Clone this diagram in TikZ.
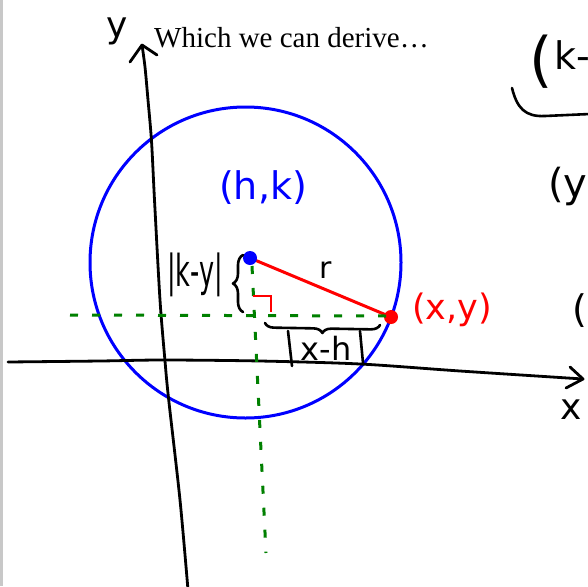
\documentclass[tikz,border=0pt]{standalone}
\usepackage{graphicx}
\usepackage{fontspec}
\setmainfont{Liberation Serif}
\newfontfamily\hw{DejaVu Sans}
\usetikzlibrary{decorations.pathreplacing}
\definecolor{pblue}{RGB}{0,0,255}
\definecolor{pred}{RGB}{255,0,0}
\definecolor{pgreen}{RGB}{0,128,0}
\definecolor{edgegray}{RGB}{200,200,200}
\begin{document}
\begin{tikzpicture}[x=1pt,y=-1pt,
  axisline/.style={line width=2.8pt, line cap=round, line join=round},
  circline/.style={pblue, line width=3pt},
  guide/.style={pgreen, line width=3pt, dash pattern=on 8pt off 14pt},
  inkline/.style={line width=2.6pt, line cap=round, line join=round},
  hand/.style={inner sep=0pt, font=\hw},
  bracestyle/.style={inkline, decorate},
  dotstyle/.style={circle, inner sep=0pt, minimum size=14pt}
]
\useasboundingbox (0,0) rectangle (588,586);
\clip (0,0) rectangle (588,586);
\fill[edgegray] (0,0) rectangle (2.5,586);

% title
\node[anchor=base west, inner sep=0pt, font=\fontsize{29}{33}\selectfont] (title) at (154,47.3) {Which we can derive…};

% circle
\coordinate (O) at (245.5,262.5);
\draw[circline] (O) circle [radius=155.5];

% y axis
\coordinate (ytip) at (142,45);
\draw[axisline] plot[smooth, tension=0.5] coordinates {(188,590) (180,500) (168.5,398) (165,361) (160,300) (154.5,200) (151.5,141) (148,100) (145,67) (ytip)};
\draw[axisline] (130,62) -- (ytip) -- (157,55);
\node[hand, font=\hw\fontsize{36}{40}\selectfont] (ylab) at (117,31) {y};

% x axis
\coordinate (xtip) at (583,379);
\draw[axisline] plot[smooth, tension=0.5] coordinates {(8,362) (100,361) (163,360) (260,361) (360,364) (460,371) (xtip)};
\draw[axisline] (570,367) -- (xtip) -- (566,388);
\node[hand, font=\hw\fontsize{36}{40}\selectfont] (xlab) at (571,410) {x};

% centre and point
\coordinate (C) at (250,258);
\coordinate (P) at (391,317);
\draw[pred, line width=3pt, line cap=round] (C) -- (P);
\node[dotstyle, fill=pblue] (cdot) at (C) {};
\node[dotstyle, fill=pred] (pdot) at (P) {};

% green guides
\coordinate (gl) at (70,315);
\coordinate (gr) at (386,316);
\coordinate (gt) at (252,266);
\coordinate (gb) at (266,553);
\draw[guide] (gl) -- (gr);
\draw[guide] (gt) -- (gb);

% right angle mark
\draw[pred, line width=2.8pt] (253,296) -- (271,296) -- (271,312);

% labels
\node[hand, pblue, font=\hw\fontsize{38}{42}\selectfont] (hk) at (263,188) {(h,k)};
\node[hand, pred, font=\hw\fontsize{35}{40}\selectfont] (xy) at (452,310) {(x,y)};
\node[hand, font=\hw\fontsize{30}{36}\selectfont] (rlab) at (326,270) {r};
\node[hand, font=\hw\fontsize{44}{48}\selectfont] (kylab) at (195,275) {\scalebox{0.58}[1]{|k-y|}};
\draw[bracestyle, decoration={brace, amplitude=10pt}] (243,312) -- (243,255);

% x-h bracket
\draw[bracestyle, decoration={brace, amplitude=9pt}] (380,325) -- (265,323);
\draw[inkline] (288,331) -- (292,366);
\draw[inkline] (360,331) -- (363,363);
\node[hand, font=\hw\fontsize{32}{36}\selectfont] (xhlab) at (326,348) {x-h};

% right side (cut off in the reference)
\node[hand, font=\hw\fontsize{60}{64}\selectfont] (p1) at (541,62) {(};
\node[hand, anchor=base west, font=\hw\fontsize{38}{42}\selectfont] (k1) at (554,70) {k-};
\draw[inkline] (512,88) .. controls (517,108) and (525,117) .. (545,116) -- (590,114);
\node[hand, anchor=base west, font=\hw\fontsize{40}{44}\selectfont] (p2) at (548,197) {(y};
\node[hand, anchor=base west, font=\hw\fontsize{38}{42}\selectfont] (p3) at (572,322) {(};
\end{tikzpicture}
\end{document}
